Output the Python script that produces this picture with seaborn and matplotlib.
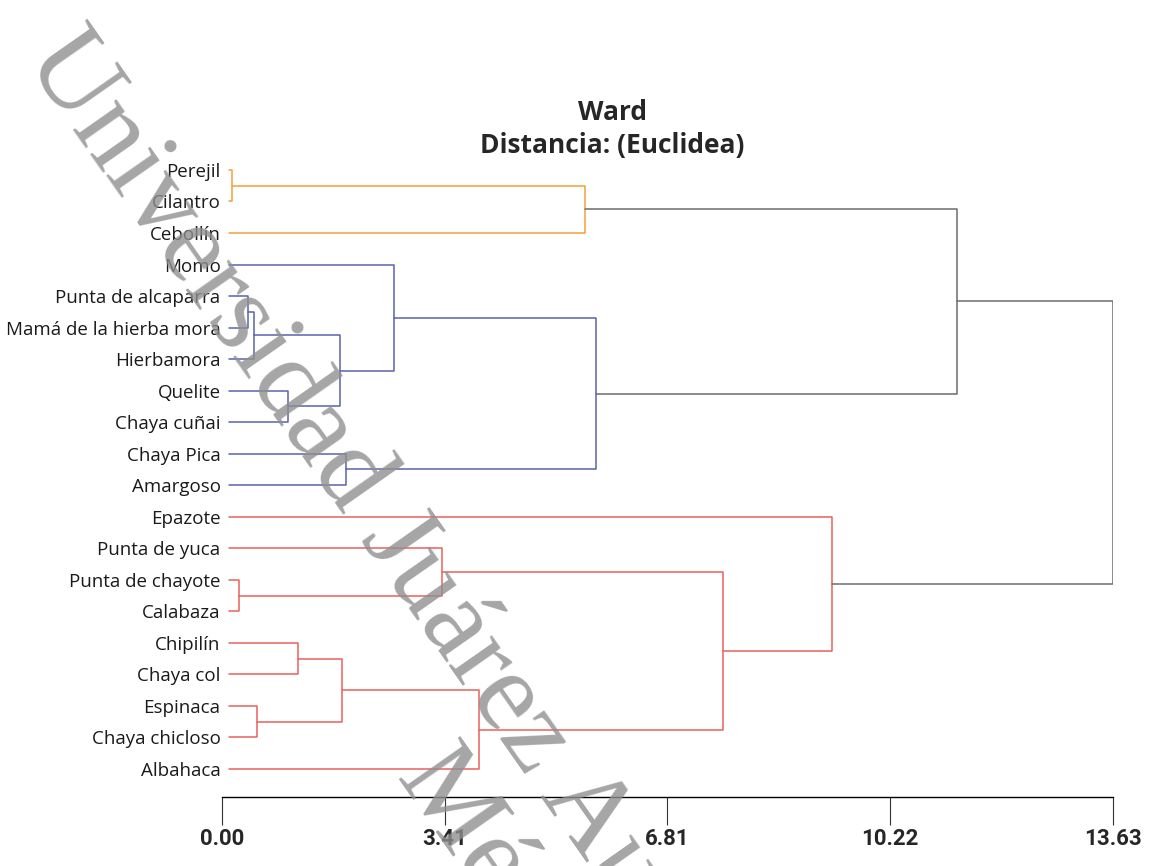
import numpy as np
import pandas as pd
import matplotlib
matplotlib.use("Agg")
import matplotlib.pyplot as plt
import seaborn as sns

# leaves in dendrogram order (top to bottom)
leaves = ["Perejil", "Cilantro", "Cebollín", "Momo", "Punta de alcaparra",
          "Mamá de la hierba mora", "Hierbamora", "Quelite", "Chaya cuñai",
          "Chaya Pica", "Amargoso", "Epazote", "Punta de yuca",
          "Punta de chayote", "Calabaza", "Chipilín", "Chaya col",
          "Espinaca", "Chaya chicloso", "Albahaca"]

# linkage, scipy style: node n+k joins merge_left[k] and merge_right[k]
merge_left = [0, 13, 4, 22, 17, 7, 15, 23, 26, 9, 3, 12, 28, 20, 30, 31, 11, 33, 37]
merge_right = [1, 14, 5, 6, 18, 8, 16, 25, 24, 10, 27, 21, 19, 2, 29, 32, 35, 34, 36]
merge_height = [0.15, 0.26, 0.40, 0.49, 0.54, 1.01, 1.16, 1.80, 1.84, 1.90,
                2.63, 3.36, 3.93, 5.55, 5.72, 7.66, 9.33, 11.25, 13.63]

# cluster roots and their colours
cluster_roots = {33: "orange", 34: "blue", 36: "red"}
palette = {"orange": "#f2a13c", "blue": "#5a62ab", "red": "#e8625e", "gray": "#6c6c6c"}

tick_values = [0.00, 3.41, 6.81, 10.22, 13.63]

leaf_start = 0.1

n = len(leaves)
ypos = {i: float(i) for i in range(n)}
xpos = {i: leaf_start for i in range(n)}
children = {}
for k, (l, r, h) in enumerate(zip(merge_left, merge_right, merge_height)):
    node = n + k
    children[node] = (l, r)
    ypos[node] = (ypos[l] + ypos[r]) / 2
    xpos[node] = h

# colour each link by the cluster it falls in
group = {}
def mark(node, g):
    if node in children:
        group[node] = g
        for c in children[node]:
            mark(c, g)
for root, g in cluster_roots.items():
    mark(root, g)

rows = []
for node, (l, r) in children.items():
    g = group.get(node, "gray")
    pts = [(xpos[l], ypos[l]), (xpos[node], ypos[l]),
           (xpos[node], ypos[r]), (xpos[r], ypos[r])]
    for x, y in pts:
        rows.append({"link": node, "group": g, "dist": x, "pos": y})
df = pd.DataFrame(rows)

sns.set_theme(style="white")
plt.rcParams['font.family'] = ['Open Sans', 'DejaVu Sans']

fig = plt.figure(figsize=(11.51, 8.66), dpi=100)
ax = fig.add_axes([222 / 1151, 1 - 797 / 866, 891 / 1151, (797 - 140) / 866])

sns.lineplot(data=df, x="dist", y="pos", hue="group", units="link",
             estimator=None, sort=False, palette=palette, linewidth=1.1,
             legend=False, ax=ax)

ax.set_xlim(0, 13.63)
ax.set_ylim(n - 1 + 0.89, -0.95)
for s in ["top", "right", "left"]:
    ax.spines[s].set_visible(False)
ax.spines["bottom"].set_color("black")
ax.spines["bottom"].set_linewidth(1.0)

ax.set_xticks(tick_values)
ax.set_xticklabels([f"{v:.2f}" for v in tick_values], fontweight="bold",
                   fontsize=16, family=["Roboto", "DejaVu Sans"])
ax.tick_params(axis="x", direction="out", length=20, width=0.8,
               color="#333333", pad=2, bottom=True)

ax.set_yticks(range(n))
ax.set_yticklabels(leaves, fontsize=13.5, color="#1a1a1a")
ax.tick_params(axis="y", length=0, pad=1)
ax.set_xlabel("")
ax.set_ylabel("")

fig.text(612 / 1151, 1 - 112 / 866, "Ward", ha="center", va="center",
         fontweight="bold", fontsize=19)
fig.text(612 / 1151, 1 - 145 / 866, "Distancia: (Euclidea)", ha="center",
         va="center", fontweight="bold", fontsize=19)

# watermark, two lines
wm_style = dict(rotation=-55, rotation_mode="anchor", ha="center", va="center",
                fontsize=82, family=["Liberation Serif", "DejaVu Serif"],
                color="#8f8f8f", alpha=0.8, zorder=10)
fig.text(0.517, 0.045, "Universidad Juárez Autónoma de Tabasco", **wm_style)
fig.text(0.449, -0.045, "México", **wm_style)

fig.savefig("out.png", dpi=100)
